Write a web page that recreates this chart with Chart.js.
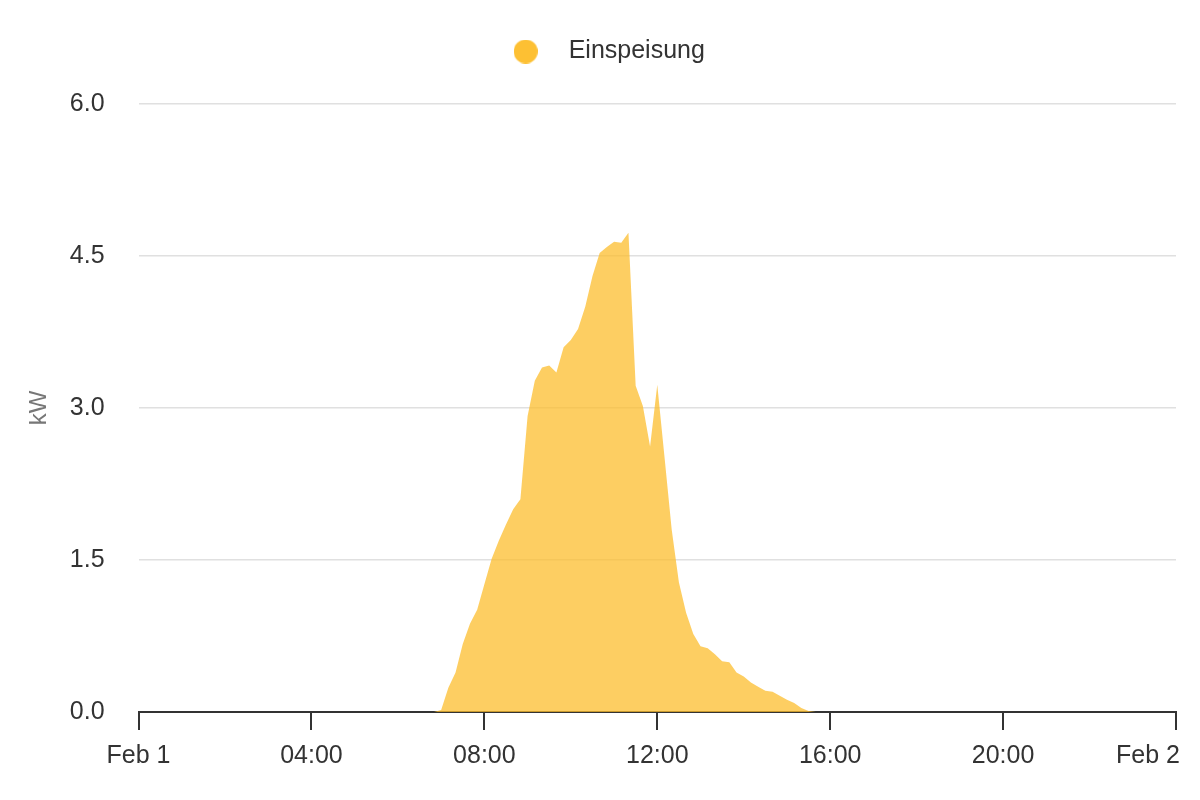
<!DOCTYPE html>
<html>
<head>
<meta charset="utf-8">
<script src="https://cdn.jsdelivr.net/npm/chart.js@4/dist/chart.umd.min.js"></script>
<style>
  html, body { margin: 0; padding: 0; background: #fff; }
  #wrap { width: 1200px; height: 800px; }
</style>
</head>
<body>
<div id="wrap"><canvas id="chart"></canvas></div>
<script>
var seriesName = "Einspeisung";
var yTitle = "kW";

// 10-minute readings, Feb 1 (only the sunny part is non-zero)
var times = ["00:00", "06:50",
  "07:00", "07:10", "07:20", "07:30", "07:40", "07:50",
  "08:00", "08:10", "08:20", "08:30", "08:40", "08:50",
  "09:00", "09:10", "09:20", "09:30", "09:40", "09:50",
  "10:00", "10:10", "10:20", "10:30", "10:40", "10:50",
  "11:00", "11:10", "11:20", "11:30", "11:40", "11:50",
  "12:00", "12:10", "12:20", "12:30", "12:40", "12:50",
  "13:00", "13:10", "13:20", "13:30", "13:40", "13:50",
  "14:00", "14:10", "14:20", "14:30", "14:40", "14:50",
  "15:00", "15:10", "15:20", "15:30", "15:40", "24:00"];
var einspeisung = [0, 0,
  0.02, 0.24, 0.39, 0.67, 0.87, 1.01,
  1.26, 1.51, 1.69, 1.85, 2.00, 2.10,
  2.92, 3.27, 3.40, 3.42, 3.35, 3.60,
  3.67, 3.78, 4.00, 4.30, 4.53, 4.59,
  4.64, 4.63, 4.73, 3.22, 3.02, 2.62,
  3.23, 2.52, 1.80, 1.28, 0.98, 0.77,
  0.65, 0.63, 0.57, 0.50, 0.49, 0.39,
  0.35, 0.29, 0.25, 0.21, 0.20, 0.16,
  0.12, 0.09, 0.04, 0.01, 0, 0];
var xTickLabels = ["Feb 1", "04:00", "08:00", "12:00", "16:00", "20:00", "Feb 2"];

var fillColor = "rgba(252,190,45,0.75)";
var dotColor = "#fdc033";

function toHours(t) {
  var p = t.split(":");
  return parseInt(p[0], 10) + parseInt(p[1], 10) / 60;
}

var points = times.map(function(t, i) {
  return { x: toHours(t), y: einspeisung[i] };
});

// legend dot
var dot = document.createElement("canvas");
dot.width = 24; dot.height = 24;
var dctx = dot.getContext("2d");
dctx.fillStyle = dotColor;
dctx.beginPath();
dctx.arc(12, 12, 12, 0, Math.PI * 2);
dctx.fill();

Chart.defaults.font.family = "'Liberation Sans', Arial, sans-serif";
Chart.defaults.font.size = 25;
Chart.defaults.color = "#333";

// more room between legend and plot
var legendGap = {
  id: "legendGap",
  beforeInit: function(chart) {
    var fit = chart.legend.fit;
    chart.legend.fit = function() {
      fit.call(this);
      this.height += 30;
    };
  }
};

// last x label drawn right-aligned so it stays inside the canvas
var lastLabelPlugin = {
  id: "lastLabel",
  afterDraw: function(chart) {
    var sx = chart.scales.x;
    var ctx = chart.ctx;
    ctx.save();
    ctx.font = "25px 'Liberation Sans', Arial, sans-serif";
    ctx.fillStyle = "#333";
    ctx.textAlign = "right";
    ctx.textBaseline = "middle";
    ctx.fillText(xTickLabels[xTickLabels.length - 1], sx.getPixelForValue(24) + 4, sx.top + 18 + 11 + 15);
    ctx.restore();
  }
};

new Chart(document.getElementById("chart"), {
  type: "line",
  data: {
    datasets: [{
      label: seriesName,
      data: points,
      fill: "origin",
      backgroundColor: fillColor,
      borderWidth: 0,
      pointRadius: 0,
      tension: 0
    }]
  },
  options: {
    responsive: true,
    maintainAspectRatio: false,
    animation: false,
    layout: { padding: { left: 24, right: 24, top: 29, bottom: 18 } },
    plugins: {
      legend: {
        position: "top",
        labels: {
          usePointStyle: true,
          pointStyle: dot,
          pointStyleWidth: 61,
          boxHeight: 24,
          padding: 10,
          color: "#333",
          font: { size: 25 }
        }
      },
      tooltip: { enabled: false }
    },
    scales: {
      x: {
        type: "linear",
        min: 0,
        max: 24,
        border: { display: true, color: "#333", width: 2 },
        grid: { drawOnChartArea: false, drawTicks: true, tickLength: 18, color: "#333", lineWidth: 2 },
        ticks: {
          stepSize: 4,
          padding: 11,
          maxRotation: 0,
          color: "#333",
          callback: function(v) {
            if (v === 24) return "";
            return xTickLabels[v / 4];
          }
        }
      },
      y: {
        min: 0,
        max: 6,
        border: { display: false },
        grid: { color: "#e0e0e0", lineWidth: 1.5, drawTicks: false },
        ticks: {
          stepSize: 1.5,
          padding: 34,
          color: "#333",
          callback: function(v) { return v.toFixed(1); }
        },
        title: {
          display: true,
          text: yTitle,
          color: "#777",
          font: { size: 24 },
          padding: { top: 1, bottom: -18 }
        }
      }
    }
  },
  plugins: [legendGap, lastLabelPlugin]
});
</script>
</body>
</html>
